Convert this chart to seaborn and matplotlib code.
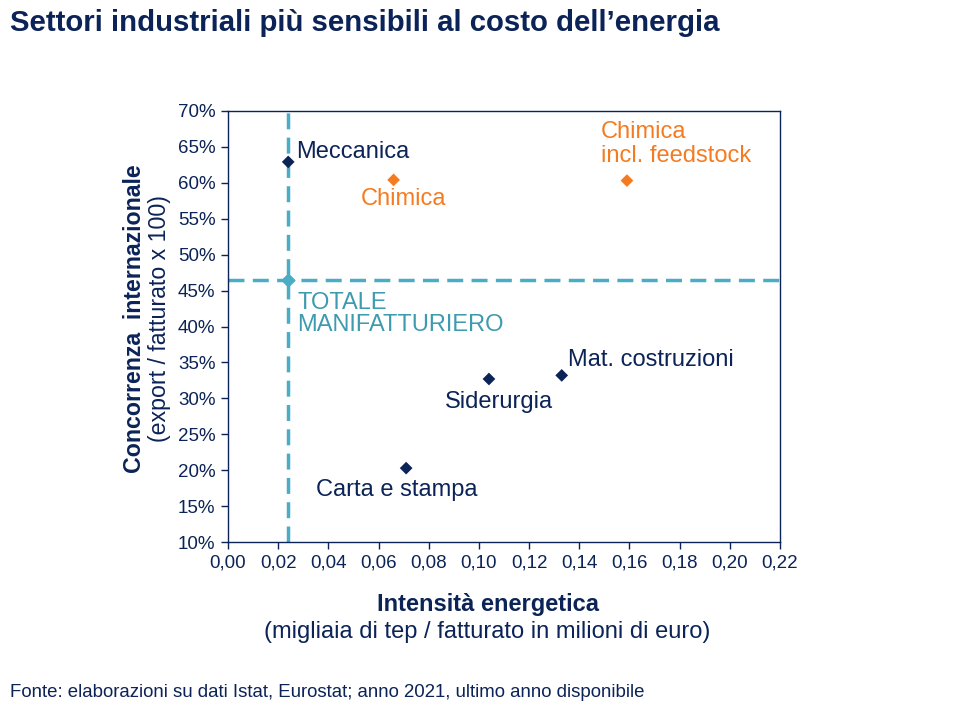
import matplotlib
matplotlib.use("Agg")
import matplotlib.pyplot as plt
import seaborn as sns
import pandas as pd
from matplotlib.ticker import FuncFormatter, MultipleLocator

# data
settori = ["Meccanica", "Chimica", "Chimica\nincl. feedstock", "Mat. costruzioni", "Siderurgia", "Carta e stampa"]
intensita = [0.024, 0.066, 0.159, 0.133, 0.104, 0.071]
concorrenza = [0.629, 0.604, 0.603, 0.332, 0.327, 0.203]
gruppo = ["base", "chimica", "chimica", "base", "base", "base"]

totale_x = 0.024
totale_y = 0.465

NAVY = "#0B2357"
ORANGE = "#F47B20"
TEAL = "#4BACC6"
TEAL_TXT = "#3E9AAE"

df = pd.DataFrame({"settore": settori, "x": intensita, "y": concorrenza, "gruppo": gruppo})

sns.set_style("white")
plt.rcParams["font.family"] = ["Liberation Sans", "DejaVu Sans"]

fig = plt.figure(figsize=(9.6, 7.2), dpi=100)
ax = fig.add_axes([0.2375, 0.247, 0.575, 0.599])

ax.axvline(totale_x, color=TEAL, lw=2.5, ls=(0, (4.6, 2.4)), zorder=1)
ax.axhline(totale_y, color=TEAL, lw=2.5, ls=(0, (4.6, 2.4)), zorder=1)
ax.scatter([totale_x], [totale_y], marker="D", s=42, color=TEAL, zorder=2)

sns.scatterplot(data=df, x="x", y="y", hue="gruppo", palette={"base": NAVY, "chimica": ORANGE},
                marker="D", s=42, edgecolor="none", legend=False, ax=ax, zorder=3)

# label offsets in points (layout only)
offsets = {
    "Meccanica": (6, -1, "left", "bottom"),
    "Chimica": (7, -6, "center", "top"),
    "Chimica\nincl. feedstock": (-19, 10, "left", "bottom"),
    "Mat. costruzioni": (4.5, 3, "left", "bottom"),
    "Siderurgia": (-32, -9, "left", "top"),
    "Carta e stampa": (-65, -8, "left", "top"),
}
for s, xv, yv, g in zip(settori, intensita, concorrenza, gruppo):
    dx, dy, ha, va = offsets[s]
    ax.annotate(s, (xv, yv), xytext=(dx, dy), textcoords="offset points", ha=ha, va=va,
                fontsize=17, color=ORANGE if g == "chimica" else NAVY, linespacing=1.12)

ax.annotate("TOTALE\nMANIFATTURIERO", (totale_x, totale_y), xytext=(6.5, -8.5), textcoords="offset points",
            ha="left", va="top", fontsize=17, color=TEAL_TXT, linespacing=1.05)

ax.set_xlim(0, 0.22)
ax.set_ylim(0.10, 0.70)
ax.xaxis.set_major_locator(MultipleLocator(0.02))
ax.yaxis.set_major_locator(MultipleLocator(0.05))
ax.xaxis.set_major_formatter(FuncFormatter(lambda v, p: f"{v:.2f}".replace(".", ",")))
ax.yaxis.set_major_formatter(FuncFormatter(lambda v, p: f"{v*100:.0f}%"))
ax.tick_params(axis="both", direction="out", length=5, width=1, color=NAVY, labelcolor=NAVY,
               labelsize=13.5, bottom=True, left=True, pad=4)
for sp in ax.spines.values():
    sp.set_color(NAVY)
    sp.set_linewidth(1)
ax.set_xlabel("")
ax.set_ylabel("")

fig.text(0.010, 0.968, "Settori industriali più sensibili al costo dell\u2019energia", fontsize=21.2,
         fontweight="bold", color=NAVY, ha="left", va="center")
fig.text(0.508, 0.160, "Intensità energetica", fontsize=17, fontweight="bold", color=NAVY, ha="center", va="center")
fig.text(0.508, 0.122, "(migliaia di tep / fatturato in milioni di euro)", fontsize=17, color=NAVY,
         ha="center", va="center")
fig.text(0.140, 0.558, "Concorrenza  internazionale", fontsize=16.7, fontweight="bold", color=NAVY,
         rotation=90, ha="center", va="center")
fig.text(0.166, 0.557, "(export / fatturato x 100)", fontsize=16.7, color=NAVY, rotation=90,
         ha="center", va="center")
fig.text(0.010, 0.038, "Fonte: elaborazioni su dati Istat, Eurostat; anno 2021, ultimo anno disponibile",
         fontsize=13.4, color=NAVY, ha="left", va="center")

fig.savefig("out.png", dpi=100)
